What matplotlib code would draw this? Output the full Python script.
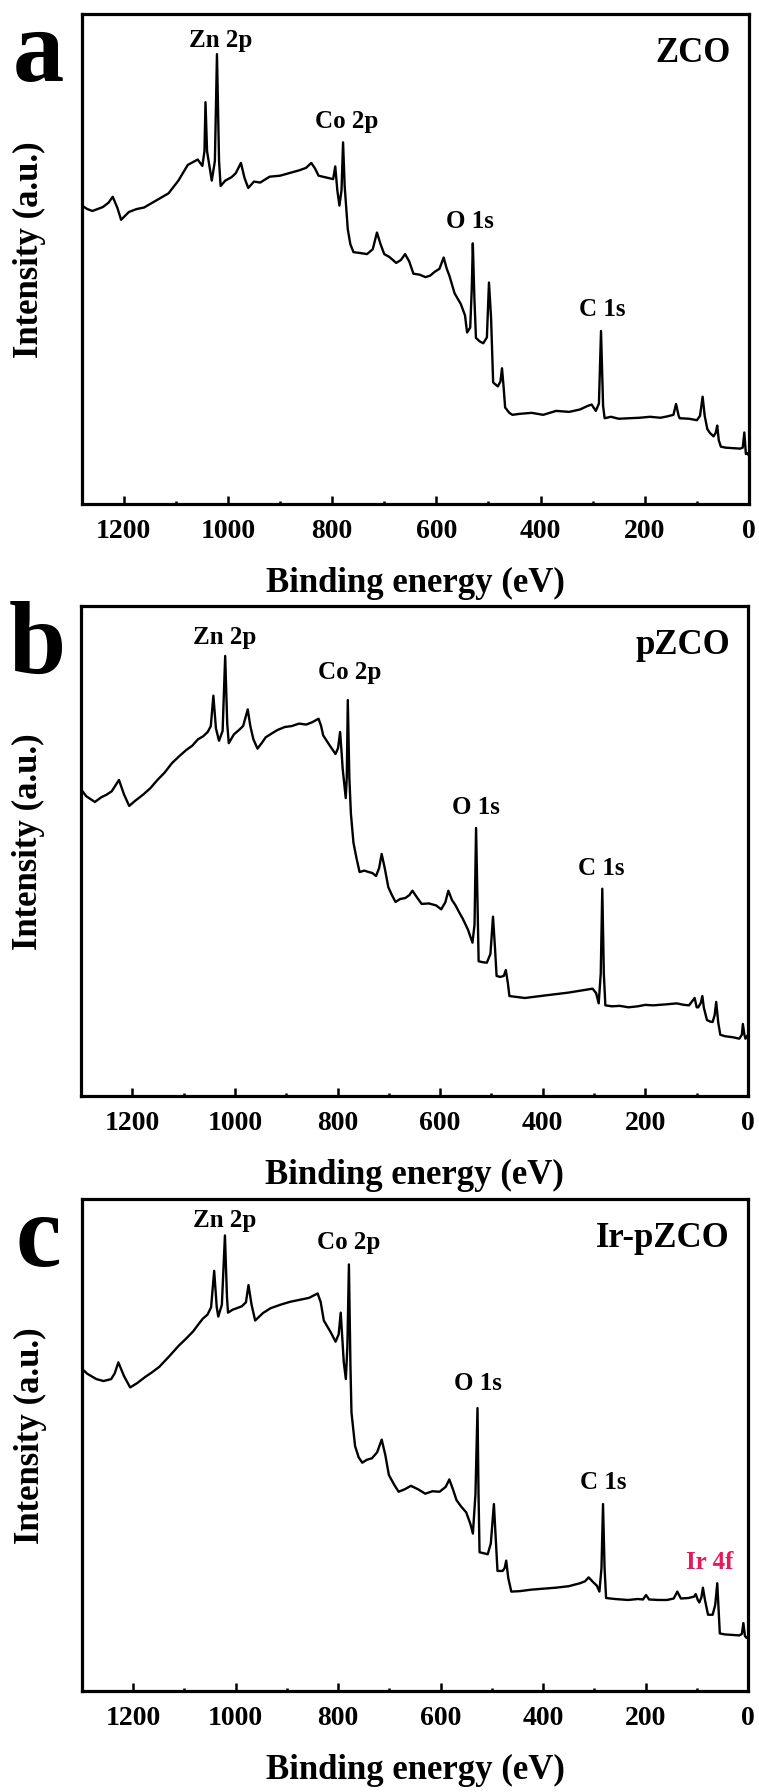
import matplotlib
matplotlib.use('Agg')
import matplotlib.pyplot as plt
from matplotlib.ticker import MultipleLocator

plt.rcParams['font.family'] = ['Liberation Serif', 'DejaVu Serif']
plt.rcParams['font.weight'] = 'bold'

# ---- data: (binding energy eV, intensity a.u.) ----
spec_a = [(1280, 60.9), (1270, 60.2), (1260, 59.8), (1240, 60.6), (1229, 61.5), (1221, 62.7),
          (1212, 60.4), (1205, 58.0), (1190, 59.6), (1175, 60.2), (1161, 60.5), (1140, 61.8),
          (1114, 63.4), (1095, 66.0), (1077, 69.2), (1058, 70.3), (1049, 69.0), (1045, 72.0),
          (1043, 82.0), (1040, 72.0), (1031, 66.0), (1025, 70.0), (1021, 91.8), (1017, 70.0),
          (1014, 64.9), (1005, 66.0), (993, 66.7), (985, 67.5), (975, 69.6), (968, 66.5),
          (961, 64.5), (950, 65.8), (938, 65.6), (920, 66.8), (900, 67.0), (880, 67.6),
          (863, 68.1), (850, 68.6), (840, 69.6), (833, 68.5), (826, 67.0), (810, 66.6),
          (798, 66.3), (794, 68.9), (790, 64.0), (786, 60.9), (782, 64.0), (779, 73.8),
          (776, 65.0), (774, 62.0), (770, 56.1), (765, 53.0), (759, 51.4), (745, 51.2),
          (733, 51.0), (722, 52.0), (714, 55.4), (707, 53.0), (700, 51.0), (690, 50.4),
          (677, 49.2), (668, 49.8), (660, 51.0), (652, 49.5), (644, 47.0), (632, 46.8),
          (621, 46.3), (612, 46.6), (603, 47.4), (594, 48.0), (586, 50.3), (580, 48.0),
          (575, 46.6), (565, 43.0), (553, 40.8), (545, 38.5), (541, 35.0), (535, 36.0),
          (532, 44.0), (530, 53.2), (527, 42.0), (524, 33.9), (517, 33.2), (510, 32.8),
          (503, 34.0), (499, 45.2), (495, 38.0), (491, 24.8), (482, 24.0), (477, 25.0),
          (474, 27.7), (471, 24.0), (468, 19.7), (460, 18.6), (454, 18.2), (440, 18.4),
          (417, 18.6), (395, 18.2), (370, 19.0), (345, 18.8), (324, 19.3), (310, 20.0),
          (302, 20.3), (294, 19.0), (288, 20.5), (284, 35.3), (280, 20.0), (277, 17.5),
          (265, 17.8), (250, 17.4), (231, 17.5), (210, 17.6), (190, 17.8), (170, 17.6),
          (156, 17.9), (145, 18.2), (140, 20.4), (135, 18.0), (133, 17.5), (115, 17.4),
          (100, 17.1), (94, 18.0), (89, 21.9), (85, 18.0), (80, 15.3), (75, 14.5), (68, 13.8),
          (64, 14.5), (61, 16.0), (58, 13.0), (54, 11.7), (45, 11.5), (30, 11.4), (17, 11.3),
          (12, 11.5), (9, 14.6), (6, 10.2), (3, 10.4), (0, 9.8)]

spec_b = [(1300, 62.6), (1290, 61.2), (1273, 60.0), (1260, 61.0), (1250, 61.5), (1240, 62.2),
          (1226, 64.5), (1216, 61.5), (1206, 59.2), (1195, 60.2), (1179, 61.5), (1165, 62.8),
          (1151, 64.5), (1137, 66.0), (1123, 67.9), (1109, 69.3), (1095, 70.6), (1083, 71.5),
          (1072, 72.8), (1062, 73.4), (1053, 74.3), (1047, 75.5), (1042, 81.7), (1037, 75.0),
          (1031, 72.5), (1024, 74.5), (1019, 89.8), (1015, 76.0), (1012, 72.0), (1002, 73.8),
          (992, 74.7), (984, 75.5), (975, 78.9), (970, 75.5), (964, 72.8), (956, 70.9),
          (948, 72.0), (940, 73.2), (928, 74.0), (917, 74.7), (903, 75.3), (889, 75.5),
          (875, 76.0), (861, 75.8), (849, 76.3), (837, 77.0), (832, 75.5), (828, 73.6),
          (815, 71.5), (804, 69.8), (799, 71.0), (795, 74.3), (792, 70.0), (790, 66.8),
          (784, 60.8), (782, 65.0), (780, 80.8), (777, 65.0), (774, 57.7), (769, 51.7),
          (763, 48.5), (757, 45.7), (748, 46.0), (739, 45.7), (732, 45.5), (725, 44.9),
          (719, 46.5), (714, 49.4), (708, 46.5), (701, 42.6), (694, 41.0), (687, 39.6),
          (678, 40.2), (668, 40.4), (660, 41.0), (654, 41.9), (645, 40.5), (636, 39.2),
          (622, 39.3), (608, 38.9), (598, 38.1), (590, 39.5), (584, 41.9), (577, 40.0),
          (570, 38.9), (563, 37.5), (556, 36.2), (546, 34.0), (537, 31.3), (533, 35.0),
          (530, 54.7), (527, 38.0), (525, 27.5), (517, 27.3), (509, 27.2), (502, 29.0),
          (497, 36.6), (493, 30.0), (490, 24.5), (483, 24.3), (476, 24.5), (472, 25.7),
          (468, 23.0), (465, 20.4), (450, 20.2), (435, 20.0), (420, 20.2), (397, 20.5),
          (373, 20.8), (350, 21.1), (326, 21.5), (314, 21.7), (303, 21.9), (296, 21.0),
          (291, 18.9), (287, 25.0), (284, 42.3), (281, 25.0), (278, 18.5), (265, 18.3),
          (250, 18.4), (233, 18.1), (215, 18.3), (200, 18.6), (185, 18.5), (160, 18.7),
          (139, 18.9), (125, 18.6), (115, 18.5), (104, 20.0), (100, 18.1), (97, 18.1),
          (92, 19.0), (89, 20.4), (86, 18.0), (80, 15.5), (74, 15.2), (69, 15.1), (65, 16.5),
          (62, 19.2), (58, 15.0), (54, 12.5), (45, 12.2), (30, 12.0), (17, 11.7), (12, 12.5),
          (10, 14.7), (7, 12.5), (5, 11.7), (0, 12.5)]

spec_c = [(1300, 65.5), (1290, 64.5), (1272, 63.4), (1258, 63.0), (1243, 63.4), (1236, 64.6),
          (1229, 66.8), (1218, 64.0), (1206, 61.7), (1192, 62.6), (1177, 63.8), (1163, 64.8),
          (1149, 65.9), (1130, 68.0), (1111, 70.2), (1097, 71.6), (1083, 73.1), (1073, 74.5),
          (1064, 75.7), (1055, 76.5), (1048, 78.0), (1042, 85.4), (1037, 78.0), (1034, 76.1),
          (1027, 78.5), (1021, 92.6), (1017, 80.0), (1015, 76.9), (1006, 77.5), (998, 77.8),
          (988, 78.2), (980, 79.0), (975, 82.5), (969, 78.5), (962, 75.3), (947, 76.8),
          (932, 77.8), (913, 78.5), (894, 79.1), (875, 79.5), (857, 79.9), (840, 80.8),
          (834, 79.0), (828, 75.3), (815, 73.0), (805, 71.0), (799, 72.5), (795, 76.9),
          (791, 70.0), (789, 66.8), (785, 63.4), (782, 70.0), (779, 86.7), (776, 66.0),
          (774, 56.6), (767, 49.8), (760, 47.5), (753, 46.4), (744, 47.0), (734, 47.3),
          (724, 48.5), (715, 51.1), (708, 48.0), (701, 43.9), (691, 42.0), (682, 40.5),
          (670, 41.0), (658, 41.7), (644, 41.0), (630, 40.1), (616, 40.6), (602, 40.5),
          (590, 41.5), (583, 43.0), (576, 41.0), (569, 38.8), (560, 37.5), (550, 36.3),
          (542, 34.0), (537, 32.0), (532, 40.0), (528, 57.5), (526, 40.0), (524, 28.2),
          (516, 28.0), (508, 27.8), (502, 30.0), (496, 38.0), (492, 30.0), (489, 24.4),
          (479, 24.4), (475, 25.0), (472, 26.5), (468, 23.0), (462, 20.2), (445, 20.3),
          (423, 20.6), (400, 20.8), (375, 21.0), (350, 21.3), (328, 21.9), (318, 22.3),
          (311, 23.1), (303, 22.2), (295, 21.4), (290, 20.2), (286, 25.0), (283, 38.0),
          (280, 25.0), (277, 18.9), (260, 18.7), (234, 18.5), (215, 18.7), (205, 18.6),
          (199, 19.5), (193, 18.6), (175, 18.5), (158, 18.5), (145, 18.8), (138, 20.2),
          (131, 18.8), (116, 18.9), (105, 19.2), (102, 19.7), (98, 18.5), (95, 18.0),
          (91, 19.0), (88, 21.0), (84, 18.5), (78, 15.5), (69, 15.5), (64, 17.5), (60, 21.9),
          (57, 16.0), (55, 11.7), (45, 11.5), (30, 11.4), (17, 11.3), (12, 11.6), (9, 13.8),
          (6, 11.2), (3, 10.8), (0, 11.0)]

# peak labels: (text, BE position, intensity position)
labels_a = [('Zn 2p', 1014, 94.5), ('Co 2p', 772, 78.0), ('O 1s', 536, 57.6), ('C 1s', 282, 39.7)]
labels_b = [('Zn 2p', 1020, 93.6), ('Co 2p', 776, 86.4), ('O 1s', 531, 58.9), ('C 1s', 286, 46.4)]
labels_c = [('Zn 2p', 1022, 95.6), ('Co 2p', 779, 91.2), ('O 1s', 528, 62.5), ('C 1s', 283, 42.4)]

H = 1792
panels = [
    ('a', 'ZCO', spec_a, labels_a, 1280, [82 / 759, 1 - 504 / H, 667 / 759, 490 / H]),
    ('b', 'pZCO', spec_b, labels_b, 1300, [81 / 759, 1 - 1096 / H, 667 / 759, 490 / H]),
    ('c', 'Ir-pZCO', spec_c, labels_c, 1300, [82 / 759, 1 - 1691 / H, 666 / 759, 492 / H]),
]

fig = plt.figure(figsize=(7.59, 17.92), dpi=100)

for letter, name, spec, labels, xmax, rect in panels:
    be, inten = zip(*spec)
    ax = fig.add_axes(rect)
    ax.plot(be, inten, color='black', lw=1.7)
    ax.set_xlim(xmax, 0)
    ax.set_ylim(0, 100)
    ax.set_yticks([])
    ax.xaxis.set_major_locator(MultipleLocator(200))
    ax.xaxis.set_minor_locator(MultipleLocator(100))
    ax.tick_params(axis='x', which='major', direction='in', length=6, width=1.8,
                   labelsize=20, pad=11, top=False)
    ax.tick_params(axis='x', which='minor', direction='in', length=2.5, width=1.8, top=False)
    for sp in ax.spines.values():
        sp.set_linewidth(2.3)
    ax.set_xlabel('Binding energy (eV)', fontsize=25, fontweight='bold', labelpad=16)
    ax.text(-0.078, 0.518, 'Intensity (a.u.)', transform=ax.transAxes, rotation=90,
            ha='center', va='center', fontsize=25, fontweight='bold')
    for txt, x, y in labels:
        ax.text(x, y, txt, ha='center', va='center', fontsize=18, fontweight='bold')
    ax.text(0.973, 0.902, name, transform=ax.transAxes, ha='right', va='baseline',
            fontsize=25, fontweight='bold')
    ax.text(-0.065, 0.863, letter, transform=ax.transAxes, ha='center', va='baseline',
            fontsize=74, fontweight='bold')
    if letter == 'c':
        ax.text(74, 26.1, 'Ir 4f', ha='center', va='center', fontsize=18,
                fontweight='bold', color='#e8185a')

fig.savefig('out.png', dpi=100)
